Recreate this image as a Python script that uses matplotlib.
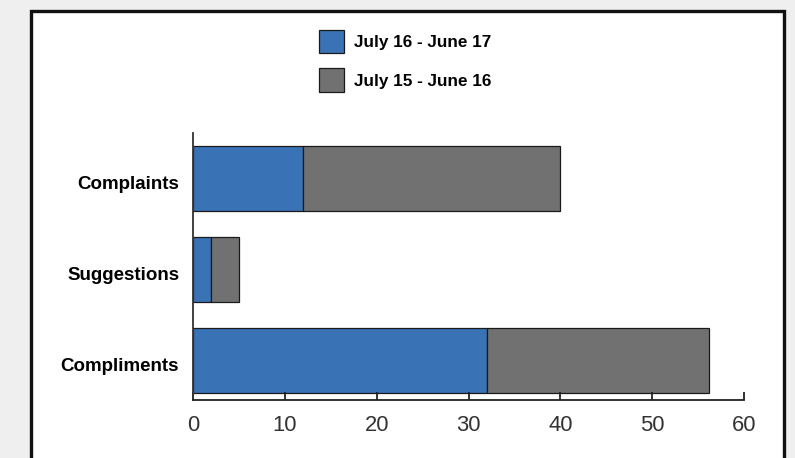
import matplotlib
matplotlib.use("Agg")
import matplotlib.pyplot as plt
from matplotlib.patches import Rectangle, Patch
import matplotlib.transforms as mtransforms

categories = ["Compliments", "Suggestions", "Complaints"]
series_names = ["July 16 - June 17", "July 15 - June 16"]
values_1617 = [32, 2, 12]
values_1516 = [24.2, 3, 28]
xticks = [0, 10, 20, 30, 40, 50, 60]

blue = "#3a72b6"
gray = "#717171"

fig = plt.figure(figsize=(7.95, 4.58), dpi=100)
fig.patch.set_facecolor("#efefef")

frame = Rectangle((31 / 795, -0.05), (784 - 31) / 795, 1.05 - 11 / 458,
                  transform=fig.transFigure, facecolor="white",
                  edgecolor="#111111", linewidth=2.4, zorder=-10)
fig.patches.append(frame)

ax = fig.add_axes([193 / 795, 1 - 400 / 458, (744 - 193) / 795, (400 - 133) / 458])
ax.set_zorder(5)
ax.set_facecolor("none")

y = list(range(len(categories)))
ax.barh(y, values_1617, height=0.715, color=blue, edgecolor="#1a1a1a", linewidth=0.9, label=series_names[0])
ax.barh(y, values_1516, left=values_1617, height=0.715, color=gray, edgecolor="#1a1a1a", linewidth=0.9, label=series_names[1])

ax.set_xlim(0, 60)
ax.set_ylim(-0.43, 2.505)
ax.set_xticks(xticks)
ax.set_xticklabels([str(t) for t in xticks], fontsize=15.8, color="#333333", family="Liberation Sans")
ax.set_yticks(y)
ax.set_yticklabels(categories, fontsize=13.5, fontweight="bold", family="Liberation Sans")
ax.tick_params(axis="x", direction="in", length=6, width=1.3, color="#222222", pad=11)
ax.tick_params(axis="y", length=0, pad=10)
offset = mtransforms.ScaledTranslation(0, -4 / 100, fig.dpi_scale_trans)
for lbl in ax.get_yticklabels():
    lbl.set_transform(lbl.get_transform() + offset)
for s in ["top", "right"]:
    ax.spines[s].set_visible(False)
ax.spines["left"].set_linewidth(1.3)
ax.spines["left"].set_color("#333333")
ax.spines["bottom"].set_linewidth(1.3)
ax.spines["bottom"].set_color("#222222")

handles = [Patch(facecolor=blue, edgecolor="#1a1a1a", linewidth=0.9),
           Patch(facecolor=gray, edgecolor="#1a1a1a", linewidth=0.9)]
leg = fig.legend(handles, series_names, loc="upper left",
                 bbox_to_anchor=(304 / 795, 1 - 15 / 458), frameon=False,
                 prop={"family": "Liberation Sans", "weight": "bold", "size": 12.3},
                 handlelength=1.45, handleheight=1.7, labelspacing=0.88, handletextpad=0.6)
leg.set_zorder(6)

fig.savefig("out.png", dpi=100, facecolor=fig.get_facecolor())
